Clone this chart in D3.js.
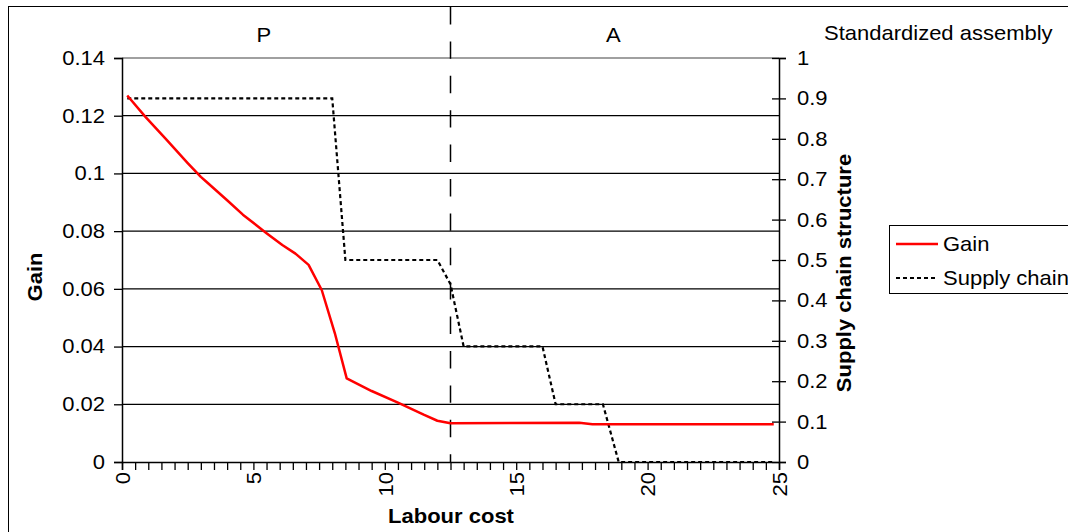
<!DOCTYPE html>
<html>
<head>
<meta charset="utf-8">
<script src="https://cdn.jsdelivr.net/npm/d3@7/dist/d3.min.js"></script>
<style>
  html, body { margin: 0; padding: 0; background: #fff; }
  svg { display: block; font-family: "Liberation Sans", Arial, sans-serif; }
</style>
</head>
<body>
<svg id="chart" width="1068" height="532"></svg>
<script>
// ---- data ----
const labourCost = [0.2, 0.9, 1.7, 2.5, 3.0, 3.2, 4.0, 4.6, 5.5, 6.1, 6.6, 7.1, 7.6, 8.1, 8.55, 9.5, 10.5, 11.5, 12.0, 12.5, 17.4, 17.9, 24.8];
const gain       = [0.127, 0.1195, 0.1116, 0.1036, 0.0988, 0.0972, 0.0907, 0.0857, 0.0793, 0.0752, 0.0722, 0.0683, 0.0596, 0.0446, 0.029, 0.0246, 0.0206, 0.0163, 0.0143, 0.0134, 0.0136, 0.0131, 0.0131];
const scCost     = [0.2, 8.0, 8.5, 12.0, 12.5, 13.0, 16.0, 16.5, 18.3, 18.9, 24.8];
const scValue    = [0.9, 0.9, 0.5, 0.5, 0.44, 0.286, 0.286, 0.143, 0.143, 0, 0];
const gainTicks  = [0, 0.02, 0.04, 0.06, 0.08, 0.1, 0.12, 0.14];
const gainTickLabels = ["0", "0.02", "0.04", "0.06", "0.08", "0.1", "0.12", "0.14"];
const scTicks    = [0, 0.1, 0.2, 0.3, 0.4, 0.5, 0.6, 0.7, 0.8, 0.9, 1];
const scTickLabels = ["0", "0.1", "0.2", "0.3", "0.4", "0.5", "0.6", "0.7", "0.8", "0.9", "1"];
const xTicks     = d3.range(0, 25.01, 0.5);
const xLabelTicks = [0, 5, 10, 15, 20, 25];
const boundaryX  = 12.5;
const regions    = [{label: "P", x: 5.4}, {label: "A", x: 18.7}];
const seriesNames = ["Gain", "Supply chain structure"];

// ---- layout ----
const svg = d3.select("#chart");
const L = 122, R = 779, T = 58, B = 462;
const x = d3.scaleLinear().domain([0, 25]).range([L, R]);
const y = d3.scaleLinear().domain([0, 0.14]).range([B, T]);
const y2 = d3.scaleLinear().domain([0, 1]).range([B, T]);
const FS = 20, SX = 1.1;

function addText(px, py, str, o = {}) {
  const rot = o.rotate ? ` rotate(${o.rotate})` : "";
  return svg.append("text")
    .attr("transform", `translate(${px},${py})${rot} scale(${SX},1)`)
    .attr("text-anchor", o.anchor || "start")
    .attr("font-size", o.size || FS)
    .attr("font-weight", o.bold ? "bold" : "normal")
    .attr("fill", "#000")
    .text(str);
}

// outer frame
svg.append("rect").attr("x", 8.5).attr("y", 6.5).attr("width", 1100).attr("height", 600)
  .attr("fill", "none").attr("stroke", "#000").attr("stroke-width", 1);

// gridlines
svg.append("g").selectAll("line").data(gainTicks.filter(d => d > 0 && d < 0.14)).join("line")
  .attr("x1", L).attr("x2", R).attr("y1", d => y(d)).attr("y2", d => y(d))
  .attr("stroke", "#000").attr("stroke-width", 1.2);
svg.append("line").attr("x1", L).attr("x2", R).attr("y1", y(0.14)).attr("y2", y(0.14))
  .attr("stroke", "#808080").attr("stroke-width", 1.5);

// left axis
const gL = svg.append("g").attr("transform", `translate(${L},0)`)
  .call(d3.axisLeft(y).tickValues(gainTicks).tickSize(8).tickPadding(9)
    .tickFormat((d, i) => gainTickLabels[i]));
gL.select(".domain").attr("stroke-width", 1.5);
gL.selectAll(".tick line").attr("stroke-width", 1.3);
gL.selectAll("text").attr("font-size", FS).attr("font-family", "Liberation Sans, Arial").attr("fill", "#000")
  .attr("x", 0).attr("transform", `translate(-17,0) scale(${SX},1)`);

// right axis
const gR = svg.append("g").attr("transform", `translate(${R},0)`)
  .call(d3.axisRight(y2).tickValues(scTicks).tickSize(7).tickPadding(11)
    .tickFormat((d, i) => scTickLabels[i]));
gR.select(".domain").attr("stroke-width", 1.5);
gR.selectAll(".tick line").attr("x1", -7).attr("x2", 7).attr("stroke-width", 1.3);
gR.selectAll("text").attr("font-size", FS).attr("font-family", "Liberation Sans, Arial").attr("fill", "#000")
  .attr("x", 0).attr("transform", `translate(18,0) scale(${SX},1)`);

// bottom axis
const gB = svg.append("g").attr("transform", `translate(0,${B})`)
  .call(d3.axisBottom(x).tickValues(xTicks).tickSize(8)
    .tickFormat(d => xLabelTicks.includes(d) ? String(d) : ""));
gB.select(".domain").attr("stroke-width", 1.5);
gB.selectAll(".tick line").attr("stroke-width", 1.3);
gB.selectAll("text")
  .attr("font-size", FS).attr("font-family", "Liberation Sans, Arial").attr("fill", "#000")
  .attr("text-anchor", "end")
  .attr("transform", `translate(0,10) rotate(-90) scale(${SX},1)`)
  .attr("x", 0).attr("y", 0).attr("dy", "0.36em");

// boundary dashed line
svg.append("line").attr("x1", x(boundaryX)).attr("x2", x(boundaryX)).attr("y1", 7).attr("y2", B)
  .attr("stroke", "#000").attr("stroke-width", 1.5).attr("stroke-dasharray", "17.4,17");

// series lines
const lineGain = d3.line().x(d => x(d[0])).y(d => y(d[1]));
const lineSC = d3.line().x(d => x(d[0])).y(d => y2(d[1]));
svg.append("path").datum(scCost.map((c, i) => [c, scValue[i]]))
  .attr("d", lineSC).attr("fill", "none").attr("stroke", "#000")
  .attr("stroke-width", 2.2).attr("stroke-dasharray", "4,3");
svg.append("path").datum(labourCost.map((c, i) => [c, gain[i]]))
  .attr("d", lineGain).attr("fill", "none").attr("stroke", "#ff0000")
  .attr("stroke-width", 2.5).attr("stroke-linejoin", "round");

// region labels
regions.forEach(d => addText(x(d.x), 41.5, d.label, {anchor: "middle"}));
addText(824, 40, "Standardized assembly");

// axis titles
addText(42, 277, "Gain", {anchor: "middle", bold: true, rotate: -90});
addText(851, 273, "Supply chain structure", {anchor: "middle", bold: true, rotate: -90});
addText(451, 523, "Labour cost", {anchor: "middle", bold: true});

// legend
const lg = svg.append("g");
lg.append("rect").attr("x", 889.5).attr("y", 225.5).attr("width", 300).attr("height", 68)
  .attr("fill", "#fff").attr("stroke", "#000").attr("stroke-width", 1);
lg.append("line").attr("x1", 896).attr("x2", 938).attr("y1", 244).attr("y2", 244)
  .attr("stroke", "#ff0000").attr("stroke-width", 2.5);
lg.append("line").attr("x1", 896).attr("x2", 938).attr("y1", 278).attr("y2", 278)
  .attr("stroke", "#000").attr("stroke-width", 2).attr("stroke-dasharray", "4,3");
addText(943, 251, seriesNames[0]);
addText(943, 285, seriesNames[1]);
</script>
</body>
</html>
